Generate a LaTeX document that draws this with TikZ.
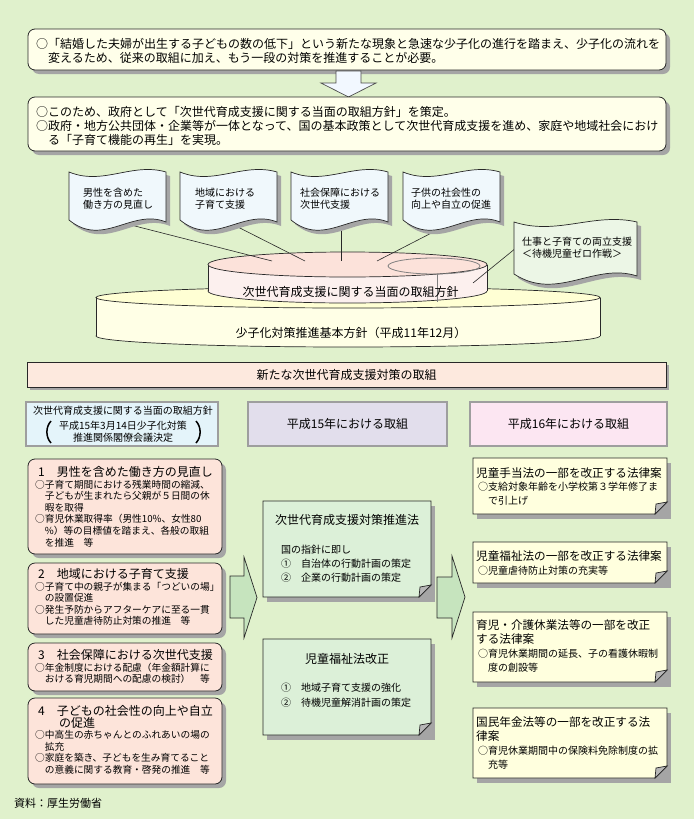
\documentclass[tikz,border=0pt]{standalone}
\usepackage{fontspec}
\setmainfont{Noto Sans CJK JP}
\usetikzlibrary{shadows}
\definecolor{bg}{RGB}{224,241,204}
\definecolor{cream}{RGB}{255,255,234}
\definecolor{peach}{RGB}{253,228,218}
\definecolor{headpeach}{RGB}{253,233,222}
\definecolor{flagblue}{RGB}{240,248,252}
\definecolor{flaggreen}{RGB}{236,246,230}
\definecolor{pinktop}{RGB}{252,226,218}
\definecolor{pinkside}{RGB}{252,240,238}
\definecolor{yeltop}{RGB}{255,255,212}
\definecolor{yelside}{RGB}{255,255,230}
\definecolor{colAfill}{RGB}{228,244,250}
\definecolor{colBfill}{RGB}{226,222,236}
\definecolor{colCfill}{RGB}{252,230,242}
\definecolor{midgreen}{RGB}{220,240,216}
\definecolor{ryellow}{RGB}{255,255,222}
\definecolor{agreen}{RGB}{198,228,190}
\definecolor{ablue}{RGB}{242,248,255}
\definecolor{shd}{RGB}{165,165,165}
\definecolor{edge}{RGB}{40,40,40}
\tikzset{
  shdthree/.style={drop shadow={shadow xshift=3pt,shadow yshift=-3pt,fill=shd,opacity=1}},
  shdfour/.style={drop shadow={shadow xshift=4pt,shadow yshift=-4pt,fill=shd,opacity=1}},
  rbox/.style={draw=edge, line width=0.8pt, rounded corners=7pt, inner sep=0pt, shdfour},
  sbox/.style={draw=edge, line width=0.8pt, inner sep=0pt, shdthree},
  colbox/.style={draw=black!38, line width=1.8pt, inner sep=0pt},
  txt/.style={anchor=base west, align=left, inner sep=0pt, text width=#1},
  txt/.default=200pt,
  ctxt/.style={anchor=center, align=center, inner sep=0pt},
  conn/.style={draw=edge, line width=0.6pt},
  blockarrow/.style={draw=edge, line width=0.7pt, fill=agreen},
  flagstyle/.style={draw=edge, line width=0.7pt},
  bracket/.style={draw=black, line width=1.5pt},
  ftw/.style={font=\fontsize{12}{14}\selectfont},
  ften/.style={font=\fontsize{10}{12}\selectfont},
}
\newcommand\flagpath[2]{(0,0) .. controls ({0.35*#1},14) and ({0.65*#1},-10) .. (#1,0) -- (#1,#2) .. controls ({0.65*#1},{#2-14}) and ({0.35*#1},{#2+26}) .. (0,{#2-2}) -- cycle}
\newcommand\dogbox[5]{%
  \fill[shd] ({#1+4},{#2+5}) -- ({#3+4},{#2+5}) -- ({#3+4},{#4+5}) -- ({#1+4},{#4+5}) -- cycle;
  \filldraw[fill=#5, draw=edge, line width=0.8pt] (#1,#2) -- (#3,#2) -- (#3,{#4-12}) -- ({#3-12},#4) -- (#1,#4) -- cycle;
  \filldraw[fill=shd!80, draw=edge, line width=0.7pt] (#3,{#4-12}) -- ({#3-12},#4) -- ({#3-11},{#4-10}) -- cycle;}
\begin{document}
\begin{tikzpicture}[x=1pt,y=-1pt]
\useasboundingbox (0,0) rectangle (694,819);
\fill[bg] (0,0) rectangle (694,819);

% top boxes
\node[rbox, fill=cream, minimum width=638pt, minimum height=41pt] (box1) at (347,49.5) {};
\node[txt=632pt, ftw] (box1t) at (36,48.5) {○「結婚した夫婦が出生する子どもの数の低下」という新たな現象と急速な少子化の進行を踏まえ、少子化の流れを\\　変えるため、従来の取組に加え、もう一段の対策を推進することが必要。};
\draw[fill=ablue, draw=black!70, line width=0.7pt] (336,71) -- (361,71) -- (361,83) -- (376,83) -- (348.5,97) -- (321,83) -- (336,83) -- cycle;
\node[rbox, fill=cream, minimum width=638pt, minimum height=54pt] (box2) at (347,124) {};
\node[txt=632pt, ftw] (box2t) at (36,116.5) {○このため、政府として「次世代育成支援に関する当面の取組方針」を策定。\\○政府・地方公共団体・企業等が一体となって、国の基本政策として次世代育成支援を進め、家庭や地域社会におけ\\　る「子育て機能の再生」を実現。};

% yellow cylinder
\draw[edge, fill=yelside, line width=0.7pt] (348,336) ellipse [x radius=252, y radius=11];
\fill[yelside] (96,297.5) rectangle (600,336);
\draw[edge, line width=0.7pt] (96,297.5) -- (96,336) (600,297.5) -- (600,336);
\draw[edge, fill=yeltop, line width=0.7pt] (348,297.5) ellipse [x radius=252, y radius=10.5];
% pink cylinder
\draw[edge, fill=pinkside, line width=0.7pt] (347.5,291) ellipse [x radius=139.5, y radius=12];
\fill[pinkside] (208,264.5) rectangle (487,291);
\draw[edge, line width=0.7pt] (208,264.5) -- (208,291) (487,264.5) -- (487,291);
\draw[edge, fill=pinktop, line width=0.7pt] (347.5,264.5) ellipse [x radius=139.5, y radius=12.5];
\draw[gray, line width=0.8pt] (434,266) ellipse [x radius=46, y radius=8];
\draw[gray, line width=0.8pt] (437,274) -- (437,302);
\node[ctxt, ftw] (cylp) at (350.5,292) {次世代育成支援に関する当面の取組方針};
\node[ctxt, ftw] (cyly) at (351,333) {少子化対策推進基本方針（平成11年12月）};

% connectors
\coordinate (f1) at (127,224); \coordinate (c1) at (272,261);
\coordinate (f2) at (230,223); \coordinate (c2) at (305,261);
\coordinate (f3) at (341,226); \coordinate (c3) at (341,261);
\coordinate (f4) at (447,225); \coordinate (c4) at (377,261);
\coordinate (f5) at (516,248); \coordinate (c5) at (473,283);
\draw[conn] (f1) -- (c1);
\draw[conn] (f2) -- (c2);
\draw[conn] (f3) -- (c3);
\draw[conn] (f4) -- (c4);
\draw[conn] (f5) -- (c5);

% flags
\begin{scope}[shift={(69,172)}]
  \fill[shd, shift={(4,4)}] \flagpath{97}{50};
  \filldraw[flagstyle, fill=flagblue] \flagpath{97}{50};
  \node[txt=90pt, ften] (fl1) at (14,24) {男性を含めた\\働き方の見直し};
\end{scope}
\begin{scope}[shift={(180,172)}]
  \fill[shd, shift={(4,4)}] \flagpath{97}{50};
  \filldraw[flagstyle, fill=flagblue] \flagpath{97}{50};
  \node[txt=90pt, ften] (fl2) at (15,24) {地域における\\子育て支援};
\end{scope}
\begin{scope}[shift={(291,172)}]
  \fill[shd, shift={(4,4)}] \flagpath{97}{50};
  \filldraw[flagstyle, fill=flagblue] \flagpath{97}{50};
  \node[txt=90pt, ften] (fl3) at (9,24) {社会保障における\\次世代支援};
\end{scope}
\begin{scope}[shift={(403,172)}]
  \fill[shd, shift={(4,4)}] \flagpath{97}{50};
  \filldraw[flagstyle, fill=flagblue] \flagpath{97}{50};
  \node[txt=90pt, ften] (fl4) at (8,24) {子供の社会性の\\向上や自立の促進};
\end{scope}
\begin{scope}[shift={(514,222)}]
  \fill[shd, shift={(4,4)}] \flagpath{123}{54};
  \filldraw[flagstyle, fill=flaggreen] \flagpath{123}{54};
  \node[txt=120pt, ften] (fl5) at (8,23) {仕事と子育ての両立支援\\＜待機児童ゼロ作戦＞};
\end{scope}

% header
\node[sbox, fill=headpeach, minimum width=639pt, minimum height=25pt, ftw] (hdr) at (346.5,374.5) {新たな次世代育成支援対策の取組};

% column headers
\node[colbox, fill=colAfill, minimum width=192pt, minimum height=44pt] (colA) at (122,424) {};
\node[ctxt, ften] (colAt) at (123,411) {次世代育成支援に関する当面の取組方針};
\node[ctxt, font=\fontsize{10}{12}\selectfont] (colAp) at (123,432) {平成15年3月14日少子化対策\\推進関係閣僚会議決定};
\draw[bracket] (51,421) .. controls (45.5,427) and (45.5,437) .. (51,443);
\draw[bracket] (196,421) .. controls (201.5,427) and (201.5,437) .. (196,443);
\node[colbox, fill=colBfill, minimum width=199pt, minimum height=44pt, ftw] (colB) at (347.5,424) {平成15年における取組};
\node[colbox, fill=colCfill, minimum width=197pt, minimum height=44pt, ftw] (colC) at (568.5,424) {平成16年における取組};

% left items
\tikzset{itemfont/.style={font=\fontsize{9.7}{11.6}\selectfont}}
\newcommand\ttl[1]{{\fontsize{12}{11.6}\selectfont #1}}
\node[rbox, fill=peach, minimum width=194pt, minimum height=95pt] (it1) at (125,506.5) {};
\node[txt=190pt, itemfont] (it1t) at (35,476.5) {\ttl{\hspace*{3pt}1　男性を含めた働き方の見直し}\\○子育て期間における残業時間の縮減、\\　子どもが生まれたら父親が５日間の休\\　暇を取得\\○育児休業取得率（男性10\%、女性80\\　\%）等の目標値を踏まえ、各般の取組\\　を推進　等};
\node[rbox, fill=peach, minimum width=194pt, minimum height=71pt] (it2) at (125,598.5) {};
\node[txt=190pt, itemfont] (it2t) at (35,578.5) {\ttl{\hspace*{3pt}2　地域における子育て支援}\\○子育て中の親子が集まる「つどいの場」\\　の設置促進\\○発生予防からアフターケアに至る一貫\\　した児童虐待防止対策の推進　等};
\node[rbox, fill=peach, minimum width=194pt, minimum height=48pt] (it3) at (125,667) {};
\node[txt=190pt, itemfont] (it3t) at (35,659.5) {\ttl{\hspace*{3pt}3　社会保障における次世代支援}\\○年金制度における配慮（年金額計算に\\　おける育児期間への配慮の検討）　等};
\node[rbox, fill=peach, minimum width=194pt, minimum height=86pt] (it4) at (125,741) {};
\node[txt=190pt, itemfont] (it4t) at (35,715.5) {\ttl{\hspace*{3pt}4　子どもの社会性の向上や自立}\\\ttl{\hspace*{24pt}の促進}\\○中高生の赤ちゃんとのふれあいの場の\\　拡充\\○家庭を築き、子どもを生み育てること\\　の意義に関する教育・啓発の推進　等};

% block arrows
\draw[blockarrow] (230,576) -- (244,576) -- (244,557) -- (257,597.5) -- (244,638) -- (244,618) -- (230,618) -- cycle;
\draw[blockarrow] (437,577) -- (452,577) -- (452,556) -- (465,597) -- (452,638) -- (452,618) -- (437,618) -- cycle;

% middle boxes
\dogbox{263}{501}{431}{597}{midgreen}
\node[ctxt, ftw] (m1t) at (347,520) {次世代育成支援対策推進法};
\node[txt=150pt, font=\fontsize{10}{14}\selectfont] (m1b) at (281,553) {国の指針に即し\\①　自治体の行動計画の策定\\②　企業の行動計画の策定};
\dogbox{263}{639}{431}{735}{midgreen}
\node[ctxt, ftw] (m2t) at (347,659) {児童福祉法改正};
\node[txt=150pt, font=\fontsize{10}{15}\selectfont] (m2b) at (281,691) {①　地域子育て支援の強化\\②　待機児童解消計画の策定};

% right boxes
\tikzset{rtitle/.style={font=\fontsize{11.6}{13.5}\selectfont}, rbody/.style={font=\fontsize{10}{14}\selectfont}}
\dogbox{473}{458}{667}{514}{ryellow}
\node[txt=192pt, rtitle] (r1t) at (476,477.5) {児童手当法の一部を改正する法律案};
\node[txt=190pt, rbody] (r1b) at (478,490) {○支給対象年齢を小学校第３学年修了ま\\　で引上げ};
\dogbox{473}{542}{667}{583}{ryellow}
\node[txt=192pt, rtitle] (r2t) at (476,560.5) {児童福祉法の一部を改正する法律案};
\node[txt=190pt, rbody] (r2b) at (478,574) {○児童虐待防止対策の充実等};
\dogbox{473}{612}{667}{682}{ryellow}
\node[txt=192pt, rtitle] (r3t) at (476,629.5) {育児・介護休業法等の一部を改正\\する法律案};
\node[txt=190pt, rbody] (r3b) at (478,657) {○育児休業期間の延長、子の看護休暇制\\　度の創設等};
\dogbox{473}{708}{667}{778}{ryellow}
\node[txt=192pt, rtitle] (r4t) at (476,726.5) {国民年金法等の一部を改正する法\\律案};
\node[txt=190pt, rbody] (r4b) at (478,754) {○育児休業期間中の保険料免除制度の拡\\　充等};

% source
\node[txt=150pt, font=\fontsize{11}{13}\selectfont] (src) at (14,807) {資料：厚生労働省};
\end{tikzpicture}
\end{document}
